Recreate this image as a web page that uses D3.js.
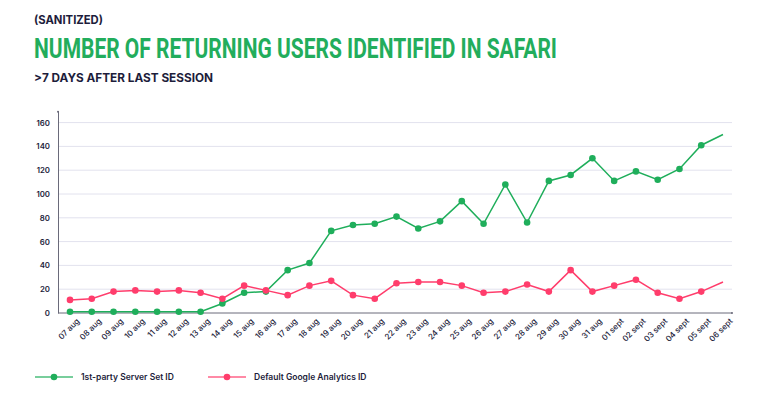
<!DOCTYPE html>
<html><head><meta charset="utf-8">
<script src="https://cdn.jsdelivr.net/npm/d3@7"></script>
<style>
body{margin:0;background:#fff;}
svg{display:block;}
</style></head>
<body>
<svg id="c" width="759" height="401"></svg>
<script>
const categories = ["07 aug","08 aug","09 aug","10 aug","11 aug","12 aug","13 aug","14 aug","15 aug","16 aug","17 aug","18 aug","19 aug","20 aug","21 aug","22 aug","23 aug","24 aug","25 aug","26 aug","27 aug","28 aug","29 aug","30 aug","31 aug","01 sept","02 sept","03 sept","04 sept","05 sept","06 sept"];
const serverSetID = [1,1,1,1,1,1,1,8,17,18,36,42,69,74,75,81,71,77,94,75,108,76,111,116,130,111,119,112,121,141,150];
const googleAnalyticsID = [11,12,18,19,18,19,17,12,23,19,15,23,27,15,12,25,26,26,23,17,18,24,18,36,18,23,28,17,12,18,26];
const yTicks = [0,20,40,60,80,100,120,140,160];
const seriesNames = ["1st-party Server Set ID","Default Google Analytics ID"];
const colors = ["#1fae5b","#ff3d6c"];

const svg = d3.select("#c");
const navy = "#1d1d3b";

// titles
svg.append("text").attr("x",34).attr("y",24).attr("font-family","Inter, Roboto, sans-serif")
  .attr("font-weight",700).attr("font-size",11.5).attr("fill",navy)
  .attr("textLength",69).attr("lengthAdjust","spacingAndGlyphs").text("(SANITIZED)");
svg.append("text").attr("x",34).attr("y",58).attr("font-family","Roboto, sans-serif")
  .attr("font-weight",700).attr("font-size",28).attr("fill","#22ad5c")
  .attr("textLength",523).attr("lengthAdjust","spacingAndGlyphs").text("NUMBER OF RETURNING USERS IDENTIFIED IN SAFARI");
svg.append("text").attr("x",34).attr("y",82).attr("font-family","Inter, Roboto, sans-serif")
  .attr("font-weight",700).attr("font-size",11.5).attr("fill",navy)
  .attr("textLength",179).attr("lengthAdjust","spacingAndGlyphs").text(">7 DAYS AFTER LAST SESSION");

const x = d3.scalePoint().domain(categories).range([70,723]);
const y = d3.scaleLinear().domain([0,170]).range([313,110.7]);
const left = 58, right = 732;

// grid
svg.append("g").selectAll("line").data(yTicks.filter(d=>d>0)).join("line")
  .attr("x1",left).attr("x2",right).attr("y1",d=>y(d)).attr("y2",d=>y(d))
  .attr("stroke","#e2e2ee").attr("stroke-width",1);

// y axis
const ya = svg.append("g").attr("transform",`translate(${left},0)`)
  .call(d3.axisLeft(y).tickValues(yTicks).tickSize(0).tickPadding(8));
ya.select(".domain").attr("stroke","#6a6a7a");
ya.selectAll("text").attr("font-family","Inter, Roboto, sans-serif").attr("font-weight",600)
  .attr("font-size",7.8).attr("fill",navy);

// x axis
const xa = svg.append("g").attr("transform",`translate(0,${y(0)})`)
  .call(d3.axisBottom(x).tickSize(0).tickPadding(8));
xa.select(".domain").attr("d",`M${left},0H${right}`).attr("stroke","#6a6a7a");
xa.selectAll("text").attr("font-family","Inter, Roboto, sans-serif").attr("font-weight",500)
  .attr("font-size",8).attr("fill",navy)
  .attr("text-anchor","end").attr("dy","0.35em")
  .attr("transform","translate(2,1) rotate(-45)");
svg.append("circle").attr("cx",right).attr("cy",y(0)).attr("r",1).attr("fill","#6a6a7a");
svg.append("circle").attr("cx",left).attr("cy",y(170)+1).attr("r",1).attr("fill","#6a6a7a");

// series
const data = [serverSetID, googleAnalyticsID];
const line = d3.line().x((d,i)=>x(categories[i])).y(d=>y(d));
data.forEach((s,k)=>{
  svg.append("path").datum(s).attr("d",line).attr("fill","none")
    .attr("stroke",colors[k]).attr("stroke-width",1.5);
  svg.append("g").selectAll("circle").data(s.slice(0,-1)).join("circle")
    .attr("cx",(d,i)=>x(categories[i])).attr("cy",d=>y(d)).attr("r",3.3)
    .attr("fill",colors[k]);
});

// legend
const lx = [35,208];
seriesNames.forEach((n,k)=>{
  const g = svg.append("g").attr("transform",`translate(${lx[k]},377)`);
  g.append("line").attr("x1",0).attr("x2",38).attr("stroke",colors[k]).attr("stroke-width",1.5).attr("opacity",0.8);
  g.append("circle").attr("cx",19).attr("r",3.3).attr("fill",colors[k]);
  g.append("text").attr("x",46).attr("dy","0.35em").attr("font-family","Inter, Roboto, sans-serif")
    .attr("font-weight",600).attr("font-size",8.5).attr("fill",navy).text(n);
});
</script>
</body></html>
